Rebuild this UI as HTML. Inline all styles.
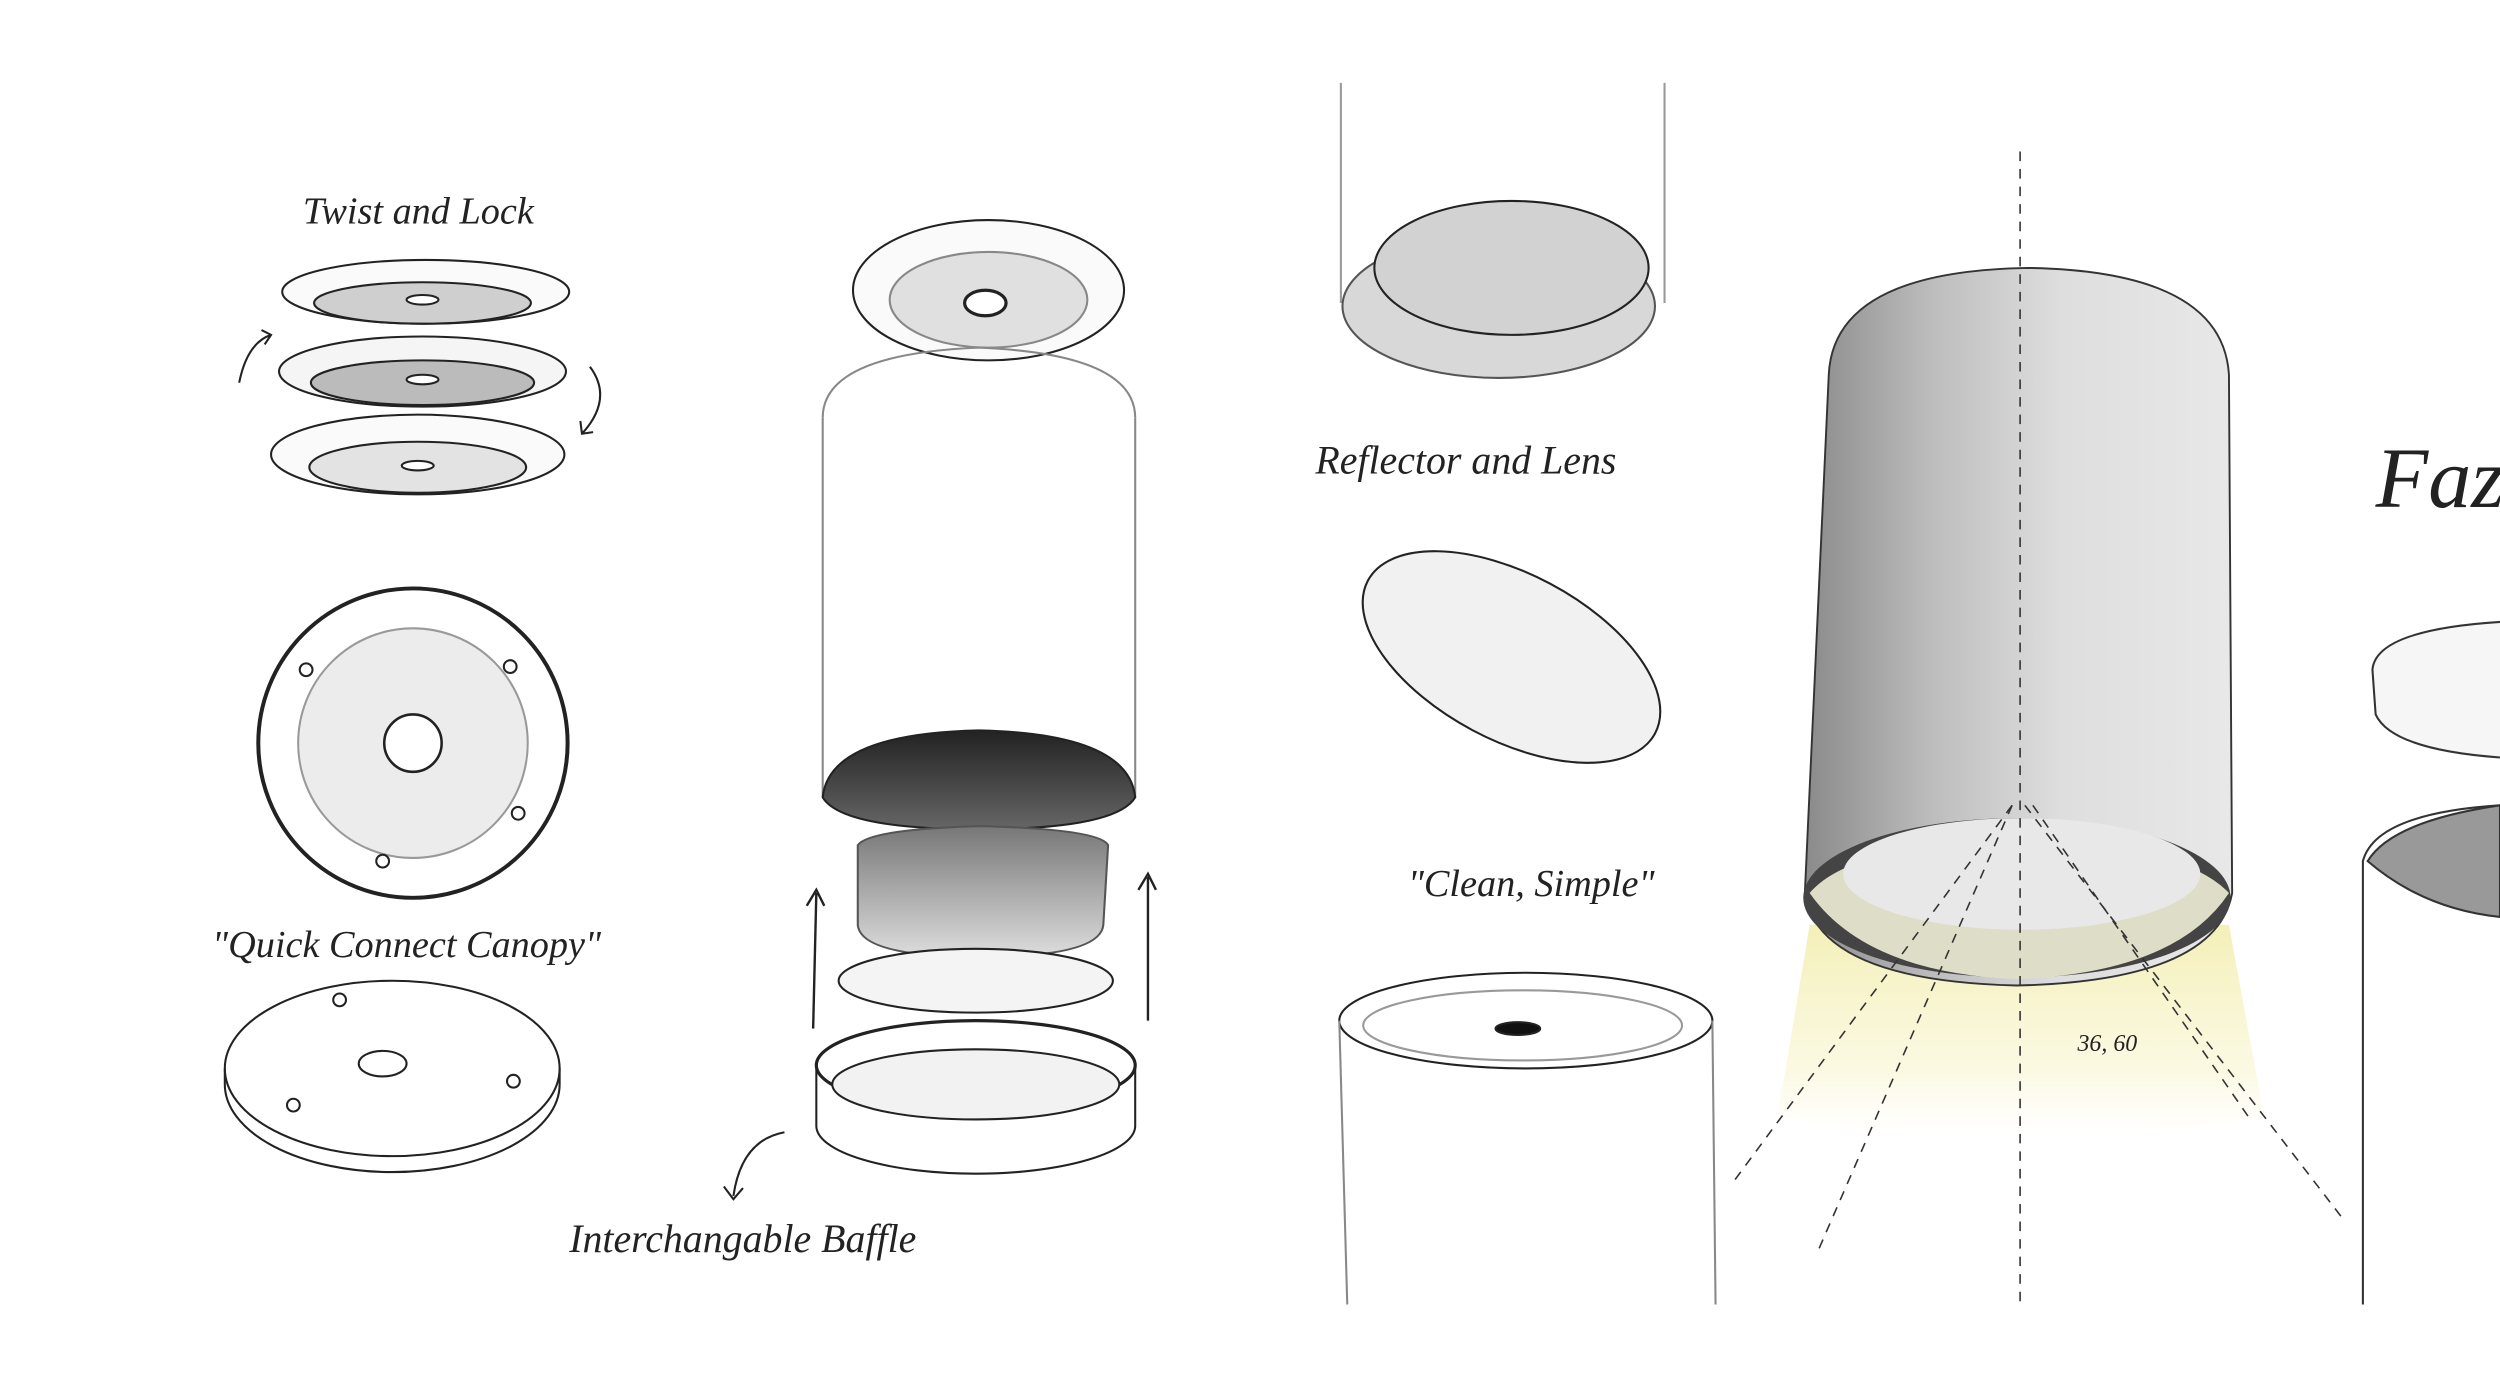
<!DOCTYPE html>
<html><head><meta charset="utf-8"><style>
html,body{margin:0;padding:0;background:#fff;overflow:hidden}
svg{display:block}
.s{font-family:"Liberation Serif",serif;font-style:italic;fill:#222}
</style></head><body>
<svg width="2500" height="1381" viewBox="0 0 1568 866" preserveAspectRatio="none" xmlns="http://www.w3.org/2000/svg">
<defs>
<linearGradient id="cyl" x1="0" x2="1" y1="0" y2="0">
<stop offset="0" stop-color="#8a8a8a"/><stop offset="0.3" stop-color="#bdbdbd"/><stop offset="0.6" stop-color="#dedede"/><stop offset="1" stop-color="#e8e8e8"/></linearGradient>
<linearGradient id="glow" x1="0" x2="0" y1="0" y2="1"><stop offset="0" stop-color="#f2eeb0" stop-opacity="0.9"/><stop offset="0.7" stop-color="#faf7d8" stop-opacity="0.7"/><stop offset="1" stop-color="#fffdf0" stop-opacity="0"/></linearGradient>
<linearGradient id="dark" x1="0" x2="0" y1="0" y2="1"><stop offset="0" stop-color="#222"/><stop offset="1" stop-color="#666"/></linearGradient>
<linearGradient id="glass" x1="0" x2="0" y1="0" y2="1"><stop offset="0" stop-color="#777"/><stop offset="1" stop-color="#ddd"/></linearGradient>
</defs>
<rect width="1568" height="866" fill="#fff"/>
<g fill="none" stroke="#222" stroke-width="1.3">
<g>
<ellipse cx="267" cy="183" rx="90" ry="20" fill="#fafafa"/><ellipse cx="265" cy="190" rx="68" ry="13" fill="#cfcfcf"/>
<ellipse cx="265" cy="233" rx="90" ry="22" fill="#f5f5f5"/><ellipse cx="265" cy="240" rx="70" ry="14" fill="#bbb"/>
<ellipse cx="262" cy="285" rx="92" ry="25" fill="#fafafa"/><ellipse cx="262" cy="293" rx="68" ry="16" fill="#e3e3e3"/>
<ellipse cx="265" cy="188" rx="10" ry="3" fill="#fff"/><ellipse cx="265" cy="238" rx="10" ry="3" fill="#fff"/><ellipse cx="262" cy="292" rx="10" ry="3" fill="#fff"/>
<path d="M150 240 Q155 215 170 210 M164 207 L170 210 L166 216"/><path d="M370 230 Q385 250 365 272 M364 264 L365 272 L372 271"/>
</g>
<circle cx="259" cy="466" r="97" fill="#fff" stroke-width="2.5"/>
<circle cx="259" cy="466" r="72" fill="#ececec" stroke="#999"/>
<circle cx="259" cy="466" r="18" fill="#fff" stroke-width="1.6"/>
<circle cx="192" cy="420" r="4"/><circle cx="320" cy="418" r="4"/><circle cx="240" cy="540" r="4"/><circle cx="325" cy="510" r="4"/>
<ellipse cx="246" cy="670" rx="105" ry="55" fill="#fff"/>
<path d="M141 670 v10 A105 55 0 0 0 351 680 v-10" />
<ellipse cx="240" cy="667" rx="15" ry="8"/>
<circle cx="213" cy="627" r="4"/><circle cx="184" cy="693" r="4"/><circle cx="322" cy="678" r="4"/>
<ellipse cx="620" cy="182" rx="85" ry="44" fill="#fafafa"/>
<ellipse cx="620" cy="188" rx="62" ry="30" fill="#e0e0e0" stroke="#888"/>
<ellipse cx="618" cy="190" rx="13" ry="8" fill="#fff" stroke-width="2"/>
<path d="M516 262 L516 500 M712 262 L712 500" stroke="#888"/>
<path d="M516 262 Q516 222 614 218 Q712 222 712 262" stroke="#888"/>
<path d="M516 500 Q520 460 614 458 Q708 460 712 500 Q700 520 614 520 Q528 520 516 500Z" fill="url(#dark)"/>
<path d="M538 530 Q545 520 615 518 Q690 520 695 530 L692 580 Q690 600 615 600 Q540 600 538 580Z" fill="url(#glass)" stroke="#555"/>
<ellipse cx="612" cy="615" rx="86" ry="20" fill="#f4f4f4"/>
<ellipse cx="612" cy="668" rx="100" ry="28" fill="#fff" stroke-width="2"/>
<path d="M512 668 v38 A100 30 0 0 0 712 706 v-38"/>
<ellipse cx="612" cy="680" rx="90" ry="22" fill="#f2f2f2"/>
<path d="M510 645 L512 560 M506 568 L512 558 L517 568 M720 640 L720 550 M714 558 L720 548 L725 558" stroke-width="1.5"/>
<path d="M492 710 Q465 715 460 750 M454 744 L460 752 L466 745"/>
<path d="M841 52 L841 190 M1044 52 L1044 190" stroke="#999"/>
<ellipse cx="940" cy="192" rx="98" ry="45" fill="#d8d8d8" stroke="#555"/>
<ellipse cx="948" cy="168" rx="86" ry="42" fill="#d2d2d2"/>
<ellipse cx="948" cy="412" rx="102" ry="52" fill="#f1f1f1" transform="rotate(28 948 412)"/>
<ellipse cx="957" cy="640" rx="117" ry="30" fill="#fff"/>
<ellipse cx="955" cy="643" rx="100" ry="22" stroke="#999"/>
<ellipse cx="952" cy="645" rx="14" ry="4" fill="#111"/>
<path d="M840 640 L845 818 M1074 640 L1076 818" stroke="#888"/>
</g>
<path d="M1135 580 L1115 700 Q1265 730 1420 700 L1398 580Z" fill="url(#glow)"/>
<path d="M1147 235 Q1150 170 1272 168 Q1394 170 1398 235 L1400 560 Q1390 615 1265 618 Q1140 615 1132 560Z" fill="url(#cyl)" stroke="#333" stroke-width="1.2"/>
<ellipse cx="1265" cy="563" rx="134" ry="50" fill="#444"/>
<path d="M1135 560 Q1170 610 1265 614 Q1365 610 1398 560 Q1370 530 1265 525 Q1160 530 1135 560Z" fill="#dedec8"/>
<ellipse cx="1268" cy="548" rx="112" ry="35" fill="#e8e8e8"/>
<g stroke="#333" stroke-width="1" stroke-dasharray="6 5" fill="none">
<path d="M1267 95 L1267 818"/>
<path d="M1262 505 L1088 740"/><path d="M1262 505 L1140 785"/><path d="M1270 505 L1470 765"/><path d="M1275 505 L1410 700"/>
</g>
<g fill="none" stroke="#333" stroke-width="1.3">
<path d="M1568 390 Q1490 395 1488 420 L1490 448 Q1500 470 1568 475" fill="#f6f6f6"/>
<path d="M1568 505 Q1490 510 1482 540 L1482 818" fill="#fff"/>
<path d="M1568 505 Q1500 515 1485 540 Q1520 570 1568 575Z" fill="#999"/>
</g>
<text class="s" x="190" y="140" font-size="24">Twist and Lock</text>
<text class="s" x="133" y="600" font-size="24">"Quick Connect Canopy"</text>
<text class="s" x="357" y="785" font-size="25">Interchangable Baffle</text>
<text class="s" x="825" y="297" font-size="25">Reflector and Lens</text>
<text class="s" x="883" y="562" font-size="24">"Clean, Simple"</text>
<text class="s" x="1303" y="659" font-size="15">36, 60</text>
<text class="s" x="1490" y="318" font-size="54">Faz</text>
</svg>
</body></html>
